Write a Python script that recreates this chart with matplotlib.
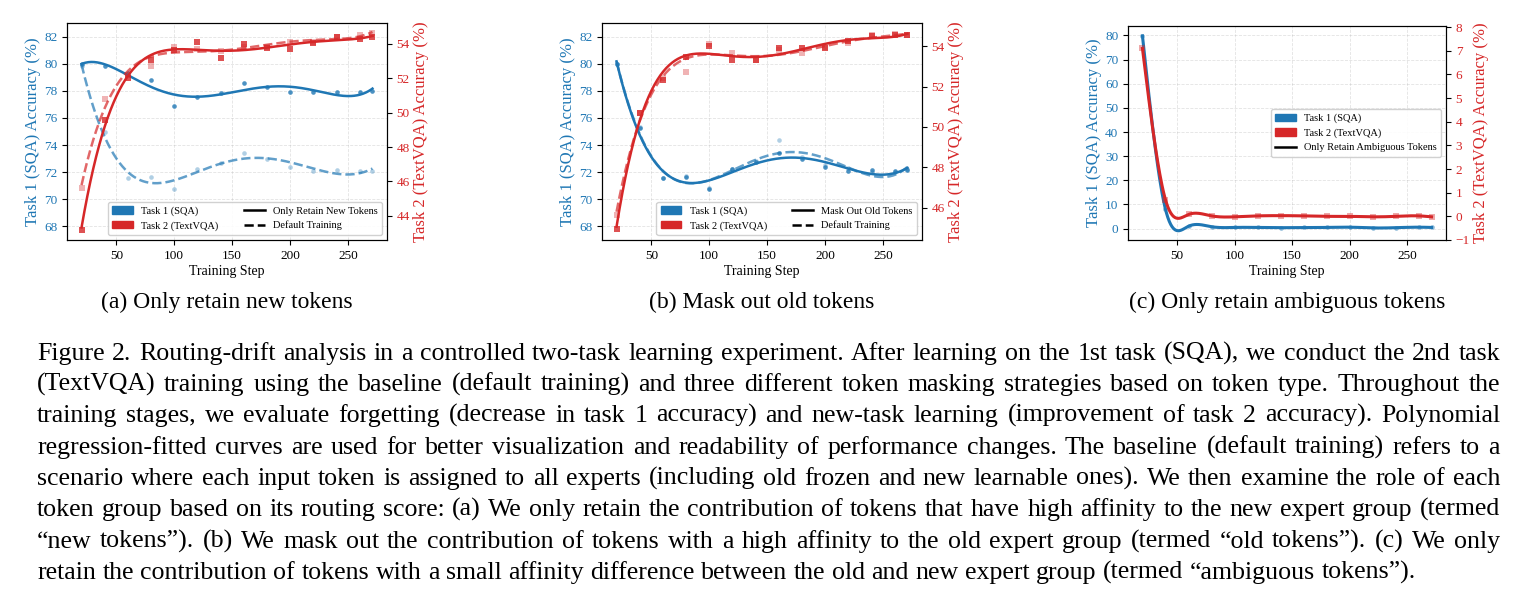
import numpy as np
import matplotlib
matplotlib.use("Agg")
import matplotlib.pyplot as plt
from matplotlib.patches import Patch
from matplotlib.lines import Line2D
from numpy.polynomial import Polynomial

plt.rcParams["font.family"] = ["Liberation Serif", "DejaVu Serif"]
plt.rcParams["axes.unicode_minus"] = True

BLUE = "#1f77b4"
RED = "#d62728"

steps = [20, 40, 60, 80, 100, 120, 140, 160, 180, 200, 220, 240, 260, 271]

# (a) only retain new tokens
a_sqa_new = [80.0, 79.8, 79.3, 78.8, 76.9, 77.55, 77.85, 78.6, 78.25, 77.9, 77.9, 77.9, 77.9, 78.0]
a_sqa_default = [79.8, 75.0, 71.6, 71.65, 70.75, 72.2, 72.7, 73.4, 73.0, 72.35, 72.1, 72.15, 72.1, 72.1]
a_tvqa_new = [43.2, 49.55, 52.0, 53.05, 53.65, 54.1, 53.15, 54.0, 53.75, 53.7, 54.05, 54.4, 54.3, 54.4]
a_tvqa_default = [45.6, 50.8, 52.2, 52.7, 53.8, 53.7, 53.6, 53.8, 53.8, 54.1, 54.1, 54.4, 54.5, 54.6]

# (b) mask out old tokens
b_sqa_mask = [80.0, 75.25, 71.6, 71.65, 70.75, 72.2, 72.75, 73.4, 73.0, 72.35, 72.1, 72.15, 72.1, 72.15]
b_sqa_default = [80.0, 75.3, 71.6, 71.7, 70.8, 72.2, 72.8, 74.4, 73.1, 72.5, 72.3, 72.0, 72.0, 72.2]
b_tvqa_mask = [44.95, 50.7, 52.35, 53.45, 54.0, 53.3, 53.3, 53.9, 53.9, 53.9, 54.25, 54.5, 54.55, 54.55]
b_tvqa_default = [45.65, 50.7, 52.45, 52.7, 54.1, 53.65, 53.3, 53.8, 53.65, 53.95, 54.15, 54.55, 54.6, 54.55]

# (c) only retain ambiguous tokens
c_sqa = [79.8, 8.0, 1.0, 0.8, 0.5, 0.5, 0.4, 0.5, 0.5, 0.6, 0.3, 0.4, 0.6, 0.5]
c_tvqa = [7.1, 0.7, 0.08, 0.02, -0.02, 0.02, 0.03, 0.02, 0.0, 0.0, -0.02, 0.0, 0.02, -0.02]

subcaptions = ["(a) Only retain new tokens", "(b) Mask out old tokens", "(c) Only retain ambiguous tokens"]

caption_lines = [
    "Figure 2. Routing-drift analysis in a controlled two-task learning experiment. After learning on the 1st task (SQA), we conduct the 2nd task",
    "(TextVQA) training using the baseline (default training) and three different token masking strategies based on token type. Throughout the",
    "training stages, we evaluate forgetting (decrease in task 1 accuracy) and new-task learning (improvement of task 2 accuracy). Polynomial",
    "regression-fitted curves are used for better visualization and readability of performance changes. The baseline (default training) refers to a",
    "scenario where each input token is assigned to all experts (including old frozen and new learnable ones). We then examine the role of each",
    "token group based on its routing score: (a) We only retain the contribution of tokens that have high affinity to the new expert group (termed",
    "\u201cnew tokens\u201d). (b) We mask out the contribution of tokens with a high affinity to the old expert group (termed \u201cold tokens\u201d). (c) We only",
    "retain the contribution of tokens with a small affinity difference between the old and new expert group (termed \u201cambiguous tokens\u201d).",
]

W, H = 1516, 615
fig = plt.figure(figsize=(W / 100, H / 100), dpi=100)


def px_axes(left, right, top, bottom):
    return fig.add_axes([left / W, 1 - bottom / H, (right - left) / W, (bottom - top) / H])


def poly_curve(x, y, deg=5):
    xs = np.linspace(min(x), max(x), 300)
    return xs, Polynomial.fit(x, y, deg)(xs)


def spline_curve(x, y):
    # natural cubic spline through the points
    x = np.asarray(x, float)
    y = np.asarray(y, float)
    n = len(x)
    h = np.diff(x)
    A = np.zeros((n, n))
    rhs = np.zeros(n)
    A[0, 0] = A[-1, -1] = 1
    for i in range(1, n - 1):
        A[i, i - 1] = h[i - 1]
        A[i, i] = 2 * (h[i - 1] + h[i])
        A[i, i + 1] = h[i]
        rhs[i] = 6 * ((y[i + 1] - y[i]) / h[i] - (y[i] - y[i - 1]) / h[i - 1])
    M = np.linalg.solve(A, rhs)
    xs = np.linspace(x[0], x[-1], 400)
    k = np.clip(np.searchsorted(x, xs) - 1, 0, n - 2)
    hk = h[k]
    a = (x[k + 1] - xs) / hk
    b = (xs - x[k]) / hk
    ys = a * y[k] + b * y[k + 1] + ((a**3 - a) * M[k] + (b**3 - b) * M[k + 1]) * hk**2 / 6
    return xs, ys


def style_axes(ax, ax2):
    ax.grid(True, linestyle="--", linewidth=0.6, alpha=0.35)
    ax.set_axisbelow(True)
    ax.set_xticks([50, 100, 150, 200, 250])
    ax.tick_params(labelsize=9.5)
    ax2.tick_params(labelsize=9.5)
    ax.tick_params(axis="y", labelcolor=BLUE)
    ax2.tick_params(axis="y", labelcolor=RED)
    ax.set_xlabel("Training Step", fontsize=10, labelpad=2)
    ax.set_ylabel("Task 1 (SQA) Accuracy (%)", color=BLUE, fontsize=12, labelpad=2)
    ax2.set_ylabel("Task 2 (TextVQA) Accuracy (%)", color=RED, fontsize=12, labelpad=2)
    ax.set_xlim(7.45, 283.55)


def draw_pair(ax, ax2, sqa_main, sqa_def, tvqa_main, tvqa_def):
    for vals, a_mk, a_ln, ls, z in ((sqa_def, 0.35, 0.7, "--", 2), (sqa_main, 0.8, 1.0, "-", 3)):
        ax.scatter(steps, vals, s=11, color=BLUE, alpha=a_mk, linewidths=0, zorder=z)
        xs, ys = poly_curve(steps, vals)
        ax.plot(xs, ys, color=BLUE, lw=1.8, ls=ls, alpha=a_ln, zorder=z)
    for vals, a_mk, a_ln, ls, z in ((tvqa_def, 0.35, 0.7, "--", 2), (tvqa_main, 0.8, 1.0, "-", 3)):
        ax2.scatter(steps, vals, s=14, marker="s", color=RED, alpha=a_mk, linewidths=0, zorder=z)
        xs, ys = poly_curve(steps, vals)
        ax2.plot(xs, ys, color=RED, lw=1.8, ls=ls, alpha=a_ln, zorder=z)


def task_legend(ax, method, two_col=True, loc="lower right"):
    handles = [
        Patch(color=BLUE, label="Task 1 (SQA)"),
        Patch(color=RED, label="Task 2 (TextVQA)"),
        Line2D([], [], color="black", lw=1.8, label=method),
    ]
    if two_col:
        handles.append(Line2D([], [], color="black", lw=1.8, ls="--", label="Default Training"))
    leg = ax.legend(handles=handles, loc=loc, ncol=2 if two_col else 1, fontsize=7.5,
                    framealpha=0.9, columnspacing=2.4)
    leg.set_zorder(10)


# (a)
ax_a = px_axes(67, 387, 23, 240)
ax_a2 = ax_a.twinx()
draw_pair(ax_a, ax_a2, a_sqa_new, a_sqa_default, a_tvqa_new, a_tvqa_default)
ax_a.set_ylim(67.0, 83.0)
ax_a.set_yticks(range(68, 83, 2))
ax_a2.set_ylim(42.6, 55.2)
ax_a2.set_yticks(range(44, 55, 2))
style_axes(ax_a, ax_a2)
task_legend(ax_a2, "Only Retain New Tokens")

# (b)
ax_b = px_axes(602, 922, 23, 240)
ax_b2 = ax_b.twinx()
draw_pair(ax_b, ax_b2, b_sqa_mask, b_sqa_default, b_tvqa_mask, b_tvqa_default)
ax_b.set_ylim(67.0, 83.0)
ax_b.set_yticks(range(68, 83, 2))
ax_b2.set_ylim(44.4, 55.15)
ax_b2.set_yticks(range(46, 55, 2))
style_axes(ax_b, ax_b2)
task_legend(ax_b2, "Mask Out Old Tokens")

# (c)
ax_c = px_axes(1128, 1446, 26, 240)
ax_c2 = ax_c.twinx()
ax_c.scatter(steps, c_sqa, s=11, color=BLUE, alpha=0.5, linewidths=0, zorder=2)
xs, ys = spline_curve(steps, c_sqa)
ax_c.plot(xs, ys, color=BLUE, lw=2.2, zorder=3)
ax_c2.scatter(steps, c_tvqa, s=14, marker="s", color=RED, alpha=0.4, linewidths=0, zorder=2)
xs, ys = spline_curve(steps, c_tvqa)
ax_c2.plot(xs, ys, color=RED, lw=2.2, zorder=3)
ax_c.set_ylim(-4.7, 83.9)
ax_c.set_yticks(range(0, 81, 10))
ax_c2.set_ylim(-1.0, 8.05)
ax_c2.set_yticks(range(-1, 9))
style_axes(ax_c, ax_c2)
task_legend(ax_c2, "Only Retain Ambiguous Tokens", two_col=False, loc="center right")

# sub-captions
for ax, label in zip((ax_a, ax_b, ax_c), subcaptions):
    pos = ax.get_position()
    fig.text(pos.x0 + pos.width / 2, 1 - 308 / H, label, ha="center", va="baseline", fontsize=17)

# justified caption
renderer = fig.canvas.get_renderer()
left_px, right_px = 37, 1500
baselines = [360, 391, 422, 454, 485, 516, 548, 579]
cap_size = 18.6


def text_width(s, size):
    t = fig.text(0, 0, s, fontsize=size)
    w = t.get_window_extent(renderer).width
    t.remove()
    return w


space_w = text_width("a a", cap_size) - text_width("aa", cap_size)
natural = max(sum(text_width(w, cap_size) for w in ln.split()) + 0.6 * space_w * (len(ln.split()) - 1)
              for ln in caption_lines[:-1])
if natural > (right_px - left_px):
    cap_size *= (right_px - left_px) / natural
    space_w = text_width("a a", cap_size) - text_width("aa", cap_size)

for i, (line, yb) in enumerate(zip(caption_lines, baselines)):
    words = line.split()
    widths = [text_width(w, cap_size) for w in words]
    if i < len(caption_lines) - 1:
        gap = (right_px - left_px - sum(widths)) / (len(words) - 1)
    else:
        gap = space_w
    x = left_px
    for w, wd in zip(words, widths):
        fig.text(x / W, 1 - yb / H, w, ha="left", va="baseline", fontsize=cap_size)
        x += wd + gap

fig.savefig("out.png", dpi=100)
